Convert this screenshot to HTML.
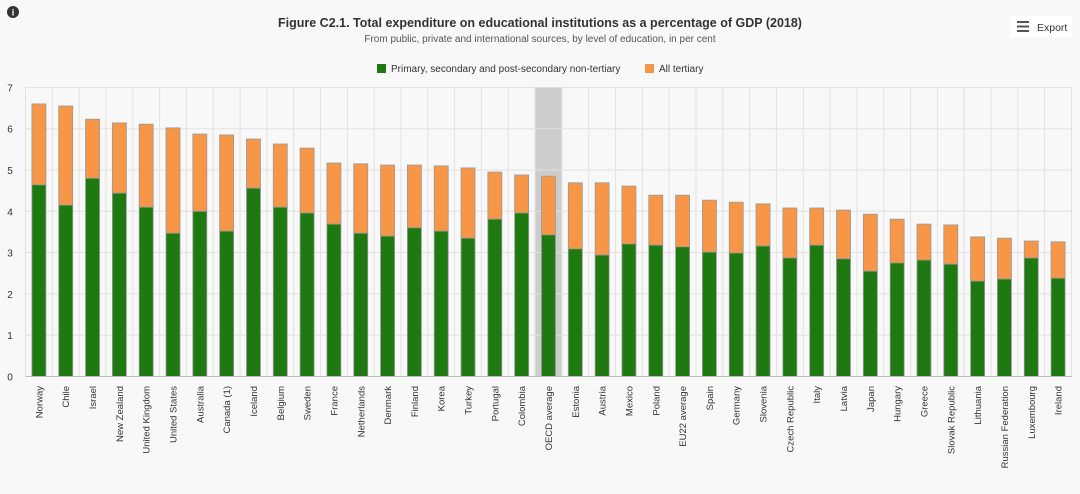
<!DOCTYPE html>
<html><head><meta charset="utf-8"><style>
body{margin:0;background:#f8f8f8;font-family:"Liberation Sans",Arial,sans-serif;}
svg text{font-family:"Liberation Sans",Arial,sans-serif;}
</style></head><body>
<svg width="1080" height="489" xmlns="http://www.w3.org/2000/svg">
<rect width="1080" height="489" fill="#f8f8f8"/>
<circle cx="13" cy="12" r="6" fill="#333"/><text x="13" y="15.5" font-size="9" fill="#fff" text-anchor="middle" font-weight="bold">i</text>
<text x="540" y="27" font-size="12.5" font-weight="bold" fill="#333" text-anchor="middle">Figure C2.1. Total expenditure on educational institutions as a percentage of GDP (2018)</text>
<text x="540" y="42" font-size="10" fill="#555" text-anchor="middle">From public, private and international sources, by level of education, in per cent</text>
<rect x="1010" y="16" width="62" height="22" fill="#fff"/>
<rect x="1017" y="21" width="12" height="2" fill="#555"/><rect x="1017" y="25.5" width="12" height="2" fill="#555"/><rect x="1017" y="30" width="12" height="2" fill="#555"/>
<text x="1037" y="31" font-size="10.5" fill="#333">Export</text>
<rect x="377" y="64" width="9" height="9" fill="#1e7a10"/><text x="391" y="72" font-size="10" fill="#333">Primary, secondary and post-secondary non-tertiary</text>
<rect x="645" y="64" width="9" height="9" fill="#f79646"/><text x="659" y="72" font-size="10" fill="#333">All tertiary</text>
<g id="c"></g>
</svg>
<script>
var d=[["Norway",6.6,4.64],["Chile",6.55,4.15],["Israel",6.23,4.8],["New Zealand",6.14,4.44],["United Kingdom",6.11,4.1],["United States",6.02,3.47],["Australia",5.87,4.0],["Canada (1)",5.85,3.52],["Iceland",5.75,4.56],["Belgium",5.63,4.1],["Sweden",5.53,3.96],["France",5.17,3.69],["Netherlands",5.15,3.47],["Denmark",5.12,3.4],["Finland",5.12,3.6],["Korea",5.1,3.52],["Turkey",5.05,3.35],["Portugal",4.95,3.81],["Colombia",4.88,3.96],["OECD average",4.85,3.43],["Estonia",4.69,3.09],["Austria",4.69,2.94],["Mexico",4.61,3.21],["Poland",4.39,3.18],["EU22 average",4.39,3.14],["Spain",4.27,3.01],["Germany",4.22,2.99],["Slovenia",4.18,3.16],["Czech Republic",4.08,2.87],["Italy",4.08,3.18],["Latvia",4.03,2.85],["Japan",3.93,2.55],["Hungary",3.81,2.75],["Greece",3.69,2.82],["Slovak Republic",3.67,2.72],["Lithuania",3.38,2.31],["Russian Federation",3.35,2.36],["Luxembourg",3.28,2.87],["Ireland",3.26,2.38]];
var L=25.5,W=26.82,Y0=376.5,S=41.3,s="";
s+='<rect x="'+(L+19*W)+'" y="'+(Y0-7*S)+'" width="'+W+'" height="'+7*S+'" fill="#cccccc"/>';
for(var k=0;k<=7;k++){var y=Y0-k*S;s+='<line x1="'+L+'" x2="1072" y1="'+y+'" y2="'+y+'" stroke="#e2e2e2"/>';s+='<text x="10" y="'+(y+4)+'" font-size="10" fill="#333" text-anchor="middle">'+k+'</text>';}
for(var i=0;i<=39;i++){var x=L+i*W;s+='<line x1="'+x+'" x2="'+x+'" y1="'+(Y0-7*S)+'" y2="'+Y0+'" stroke="#e2e2e2"/>';}
d.forEach(function(r,i){var cx=L+W*i+W/2,bx=cx-7;var yt=Y0-r[1]*S,yg=Y0-r[2]*S;
s+='<rect x="'+bx+'" y="'+yt+'" width="14" height="'+(yg-yt)+'" fill="#f79646" stroke="#999" stroke-width="0.8"/>';
s+='<rect x="'+bx+'" y="'+yg+'" width="14" height="'+(Y0-yg)+'" fill="#1e7a10" stroke="#999" stroke-width="0.8"/>';
s+='<text transform="translate('+(cx+3.5)+',386) rotate(-90)" font-size="9.5" fill="#333" text-anchor="end">'+r[0]+'</text>';});
s+='<line x1="'+L+'" x2="1072" y1="'+Y0+'" y2="'+Y0+'" stroke="#bbb"/>';
document.getElementById("c").innerHTML=s;
</script>
</body></html>
